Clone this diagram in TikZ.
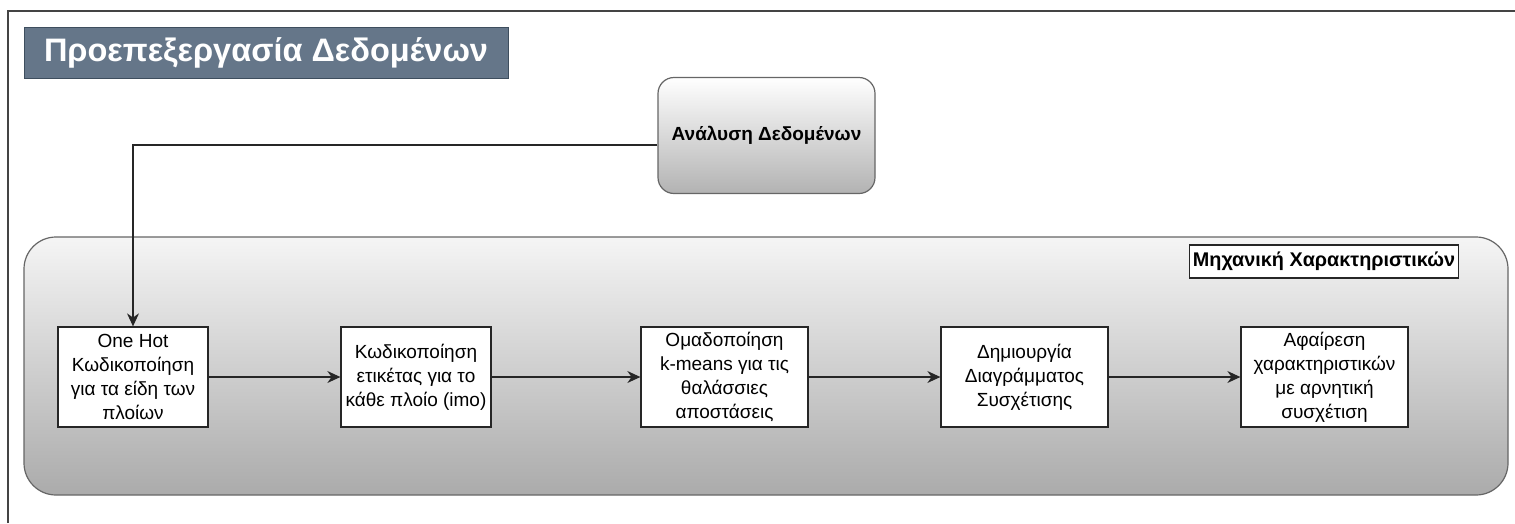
\documentclass[tikz,border=0pt]{standalone}
\usepackage{fontspec}
\setmainfont{Liberation Sans}
\usetikzlibrary{arrows.meta}
\definecolor{titlefill}{HTML}{657689}
\definecolor{titledraw}{HTML}{3E4E5E}
\definecolor{edge}{HTML}{666666}
\definecolor{frame}{HTML}{444444}
\tikzset{
  stepbox/.style={draw=black!85, line width=1.3pt, fill=white, minimum height=100pt, align=center, font=\fontsize{19}{24}\selectfont, inner sep=2pt},
  arr/.style={draw=black!85, line width=1.1pt, -{Stealth[length=13pt,width=12pt]}},
}
\begin{document}
\begin{tikzpicture}[x=1pt,y=-1pt]
\useasboundingbox (0,0) rectangle (1515,523);
% outer frame
\draw[frame, line width=1.6pt] (8,523) -- (8,11) -- (1515,11);
% title
\node[draw=titledraw, line width=1pt, fill=titlefill, minimum width=484pt, minimum height=51pt, text=white, font=\fontsize{32.5}{38}\selectfont\bfseries] (title) at (266,52.5) {Προεπεξεργασία Δεδομένων};
% analysis box
\node[draw=edge, line width=1.2pt, rounded corners=16pt, top color=white, bottom color=black!30, minimum width=217pt, minimum height=116pt, font=\fontsize{19}{23}\selectfont\bfseries] (analysis) at (766.5,135.5) {Ανάλυση Δεδομένων};
% container
\node[draw=edge, line width=1.2pt, rounded corners=32pt, top color=black!4, bottom color=black!33, minimum width=1484pt, minimum height=258pt] (cont) at (766,366) {};
\node[draw=black!85, line width=1.2pt, fill=white, minimum width=268pt, minimum height=33pt, font=\fontsize{19.8}{23}\selectfont\bfseries] (label) at (1324,261.5) {Μηχανική Χαρακτηριστικών};
% steps
\node[stepbox, minimum width=150pt] (b1) at (133,377) {One Hot\\Κωδικοποίηση\\για τα είδη των\\πλοίων};
\node[stepbox, minimum width=150pt] (b2) at (416,377) {Κωδικοποίηση\\ετικέτας για το\\κάθε πλοίο (imo)};
\node[stepbox, minimum width=167pt] (b3) at (724.5,377) {Ομαδοποίηση\\k-means για τις\\θαλάσσιες\\αποστάσεις};
\node[stepbox, minimum width=167pt] (b4) at (1024.5,377) {Δημιουργία\\Διαγράμματος\\Συσχέτισης};
\node[stepbox, minimum width=167pt] (b5) at (1324.5,377) {Αφαίρεση\\χαρακτηριστικών\\με αρνητική\\συσχέτιση};
% connectors
\draw[arr] ([yshift=-9.5pt]analysis.west) -| (b1.north);
\draw[arr] (b1) -- (b2);
\draw[arr] (b2) -- (b3);
\draw[arr] (b3) -- (b4);
\draw[arr] (b4) -- (b5);
\end{tikzpicture}
\end{document}
